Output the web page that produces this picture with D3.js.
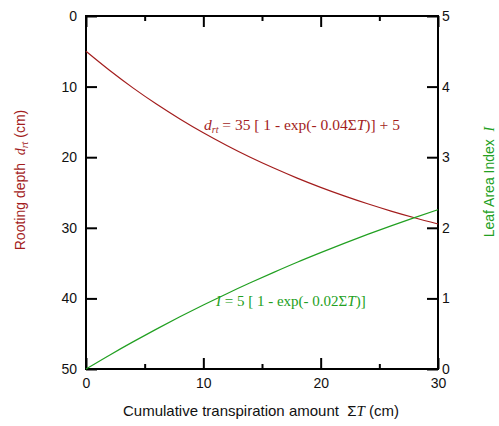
<!DOCTYPE html>
<html>
<head>
<meta charset="utf-8">
<script src="https://cdn.jsdelivr.net/npm/d3@7"></script>
<style>
  body { margin: 0; background: #fff; }
  text { white-space: pre; }
  .tick text { font-family: "Liberation Sans", Arial, sans-serif; font-size: 14px; fill: #111; }
  .tick line { stroke: #000; stroke-width: 2; }
</style>
</head>
<body>
<div id="chart"></div>
<script>
// values
const transpiration = [0, 2, 4, 6, 8, 10, 12, 14, 16, 18, 20, 22, 24, 26, 28, 30];
const rootDepth = [5, 7.69, 10.18, 12.47, 14.58, 16.54, 18.34, 20.01, 21.54, 22.96, 24.27, 25.48, 26.6, 27.63, 28.58, 29.46];
const leafArea = [0, 0.196, 0.384, 0.565, 0.739, 0.906, 1.067, 1.221, 1.369, 1.512, 1.648, 1.78, 1.906, 2.027, 2.144, 2.256];

const xMajor = [0, 10, 20, 30];
const xMinor = [5, 15, 25];
const depthTicks = [0, 10, 20, 30, 40, 50];
const laiTicks = [0, 1, 2, 3, 4, 5];

const red = '#a31d1d';
const green = '#22a022';

const width = 499,
      height = 426,
      margins = { top: 16, right: 61, bottom: 57, left: 86 };

const $svg = d3.select('#chart').append('svg')
  .attr('width', width)
  .attr('height', height);

const w = width - margins.left - margins.right;
const h = height - margins.top - margins.bottom;

const $g = $svg.append('g')
  .attr('transform', `translate(${margins.left}, ${margins.top})`);

const xScale = d3.scaleLinear().domain([0, 30]).range([0, w]);
const yDepth = d3.scaleLinear().domain([0, 50]).range([0, h]);
const yLai = d3.scaleLinear().domain([0, 5]).range([h, 0]);

const fmt = d3.format('d');

// axes, ticks pointing inward
$g.append('g')
  .attr('transform', `translate(0, ${h})`)
  .call(d3.axisBottom(xScale).tickValues(xMajor).tickSize(-11).tickPadding(9).tickFormat(fmt));
$g.append('g')
  .attr('transform', `translate(0, ${h})`)
  .call(d3.axisBottom(xScale).tickValues(xMinor).tickSize(-5).tickFormat(''));
$g.append('g')
  .call(d3.axisTop(xScale).tickValues(xMajor).tickSize(-11).tickFormat(''));
$g.append('g')
  .call(d3.axisTop(xScale).tickValues(xMinor).tickSize(-5).tickFormat(''));
$g.append('g')
  .call(d3.axisLeft(yDepth).tickValues(depthTicks).tickSize(-11).tickPadding(9).tickFormat(fmt));
$g.append('g')
  .attr('transform', `translate(${w}, 0)`)
  .call(d3.axisRight(yLai).tickValues(laiTicks).tickSize(-11).tickPadding(4).tickFormat(fmt));

$g.selectAll('.domain').remove();

$g.append('rect')
  .attr('width', w)
  .attr('height', h)
  .attr('fill', 'none')
  .attr('stroke', '#000')
  .attr('stroke-width', 2);

// curves
const depthLine = d3.line()
  .x((d, i) => xScale(transpiration[i]))
  .y(d => yDepth(d))
  .curve(d3.curveMonotoneX);

const laiLine = d3.line()
  .x((d, i) => xScale(transpiration[i]))
  .y(d => yLai(d))
  .curve(d3.curveMonotoneX);

$g.append('path')
  .datum(rootDepth)
  .attr('d', depthLine)
  .attr('fill', 'none')
  .attr('stroke', red)
  .attr('stroke-width', 1.2);

$g.append('path')
  .datum(leafArea)
  .attr('d', laiLine)
  .attr('fill', 'none')
  .attr('stroke', green)
  .attr('stroke-width', 1.2);

// equations
const serif = '"Liberation Serif", "Times New Roman", serif';
const sans = '"Liberation Sans", Arial, sans-serif';

const $eq1 = $svg.append('text')
  .attr('x', 204)
  .attr('y', 130)
  .attr('font-family', serif)
  .attr('font-size', 15.5)
  .attr('fill', red);
$eq1.append('tspan').attr('font-style', 'italic').text('d');
$eq1.append('tspan').attr('font-style', 'italic').attr('font-size', 10).attr('dy', 3).text('rt');
$eq1.append('tspan').attr('dy', -3).text(' = 35 [ 1 - exp(- 0.04Σ');
$eq1.append('tspan').attr('font-style', 'italic').text('T');
$eq1.append('tspan').text(')] + 5');

const $eq2 = $svg.append('text')
  .attr('x', 216)
  .attr('y', 306)
  .attr('font-family', serif)
  .attr('font-size', 15)
  .attr('fill', green);
$eq2.append('tspan').attr('font-style', 'italic').text('I');
$eq2.append('tspan').text(' = 5 [ 1 - exp(- 0.02Σ');
$eq2.append('tspan').attr('font-style', 'italic').text('T');
$eq2.append('tspan').text(')]');

// axis titles
const $xTitle = $svg.append('text')
  .attr('x', 261)
  .attr('y', 416)
  .attr('text-anchor', 'middle')
  .attr('font-family', sans)
  .attr('font-size', 15)
  .attr('fill', '#111');
$xTitle.append('tspan').text('Cumulative transpiration amount  Σ');
$xTitle.append('tspan').attr('font-family', serif).attr('font-style', 'italic').text('T');
$xTitle.append('tspan').text(' (cm)');

const $yTitle = $svg.append('text')
  .attr('transform', 'translate(25, 180) rotate(-90)')
  .attr('text-anchor', 'middle')
  .attr('font-family', sans)
  .attr('font-size', 14)
  .attr('fill', red);
$yTitle.append('tspan').text('Rooting depth  ');
$yTitle.append('tspan').attr('font-family', serif).attr('font-style', 'italic').text('d');
$yTitle.append('tspan').attr('font-family', serif).attr('font-style', 'italic').attr('font-size', 10).attr('dy', 3).text('rt');
$yTitle.append('tspan').attr('dy', -3).text(' (cm)');

const $y2Title = $svg.append('text')
  .attr('transform', 'translate(494, 182) rotate(-90)')
  .attr('text-anchor', 'middle')
  .attr('font-family', sans)
  .attr('font-size', 14)
  .attr('fill', green);
$y2Title.append('tspan').text('Leaf Area Index  ');
$y2Title.append('tspan').attr('font-family', serif).attr('font-style', 'italic').text('I');
</script>
</body>
</html>
